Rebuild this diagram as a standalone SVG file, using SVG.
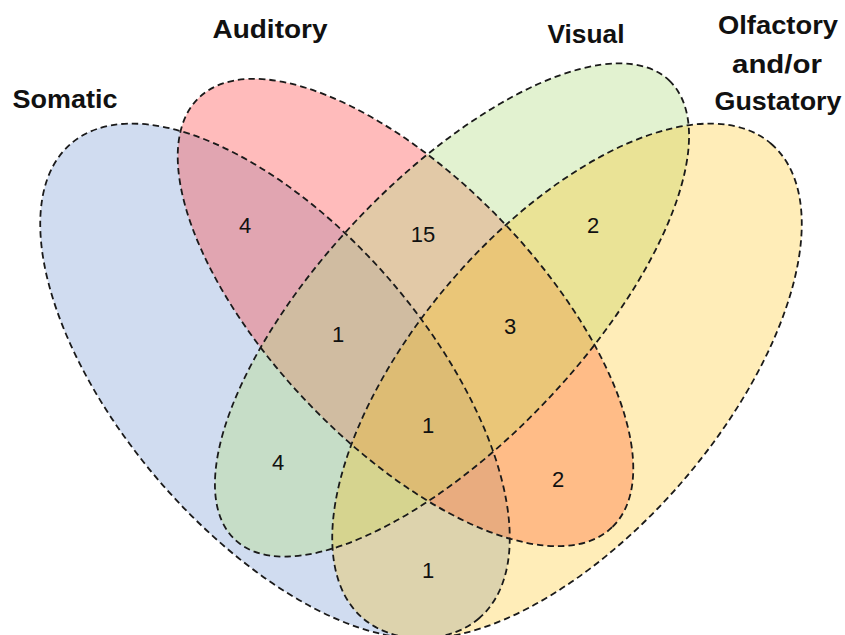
<svg xmlns="http://www.w3.org/2000/svg" xmlns:xlink="http://www.w3.org/1999/xlink" width="845" height="635" viewBox="0 0 845 635">
  <style>
    .lbl { font-family: "Liberation Sans", Arial, sans-serif; font-weight: bold; font-size: 25px; fill: #111; text-anchor: middle; }
    .num { font-family: "Liberation Sans", Arial, sans-serif; font-size: 22px; fill: #111; text-anchor: middle; }
    .outline { fill: none; stroke: #1a1a1a; stroke-width: 1.8; stroke-dasharray: 6.5 4; }
  </style>
  <defs>
    <ellipse id="geo-somatic" cx="275" cy="381" rx="313" ry="153" transform="rotate(49.3 275 381)"/>
    <ellipse id="geo-auditory" cx="405.5" cy="312.5" rx="298" ry="133" transform="rotate(46.1 405.5 312.5)"/>
    <ellipse id="geo-visual" cx="452" cy="310" rx="316" ry="131" transform="rotate(-46.6 452 310)"/>
    <ellipse id="geo-olfactory" cx="567" cy="381" rx="313" ry="153" transform="rotate(-49.3 567 381)"/>
  </defs>
  <rect width="845" height="635" fill="#ffffff"/>

  <g id="somatic">
    <use href="#geo-somatic" fill="rgba(68,114,196,0.25)"/>
    <text class="lbl" x="65" y="108" textLength="105" lengthAdjust="spacingAndGlyphs">Somatic</text>
  </g>
  <g id="auditory">
    <use href="#geo-auditory" fill="rgba(255,70,70,0.37)"/>
    <text class="lbl" x="270" y="37.5" textLength="115" lengthAdjust="spacingAndGlyphs">Auditory</text>
  </g>
  <g id="visual">
    <use href="#geo-visual" fill="rgba(182,222,137,0.4)"/>
    <text class="lbl" x="586" y="42.5" textLength="77" lengthAdjust="spacingAndGlyphs">Visual</text>
  </g>
  <g id="olfactory">
    <use href="#geo-olfactory" fill="rgba(255,192,0,0.28)"/>
    <text class="lbl" x="778" y="33.5" textLength="120" lengthAdjust="spacingAndGlyphs">Olfactory</text>
    <text class="lbl" x="777" y="72.5" textLength="90" lengthAdjust="spacingAndGlyphs">and/or</text>
    <text class="lbl" x="778" y="110" textLength="127" lengthAdjust="spacingAndGlyphs">Gustatory</text>
  </g>

  <g id="outlines">
    <use href="#geo-somatic" class="outline"/>
    <use href="#geo-auditory" class="outline"/>
    <use href="#geo-visual" class="outline"/>
    <use href="#geo-olfactory" class="outline"/>
  </g>

  <g id="counts">
    <text class="num" x="245" y="232.5">4</text>
    <text class="num" x="423" y="242">15</text>
    <text class="num" x="593" y="233">2</text>
    <text class="num" x="338" y="341.5">1</text>
    <text class="num" x="510" y="334">3</text>
    <text class="num" x="428" y="433">1</text>
    <text class="num" x="278" y="470">4</text>
    <text class="num" x="558" y="486.5">2</text>
    <text class="num" x="428" y="578">1</text>
  </g>
</svg>
